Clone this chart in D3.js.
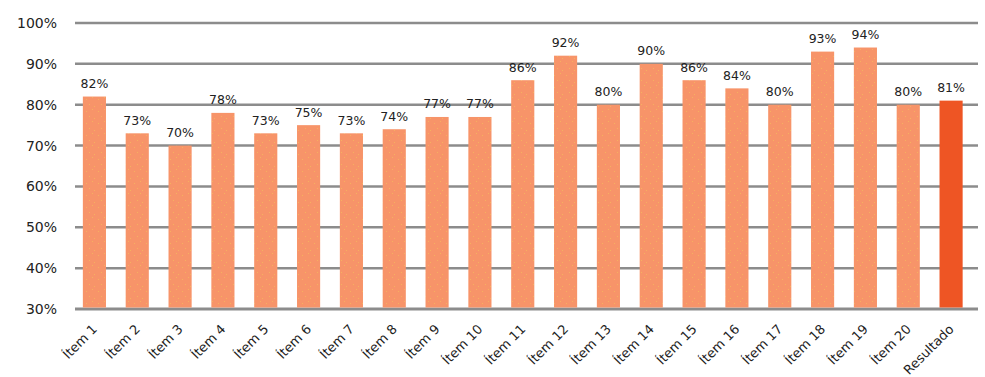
<!DOCTYPE html>
<html><head><meta charset="utf-8">
<script src="https://cdn.jsdelivr.net/npm/d3@7"></script>
<style>body{margin:0;background:#fff}svg{display:block}</style>
</head><body>
<script>
const categories = ["Ítem 1","Ítem 2","Ítem 3","Ítem 4","Ítem 5","Ítem 6","Ítem 7","Ítem 8","Ítem 9","Ítem 10","Ítem 11","Ítem 12","Ítem 13","Ítem 14","Ítem 15","Ítem 16","Ítem 17","Ítem 18","Ítem 19","Ítem 20","Resultado"];
const values = [82,73,70,78,73,75,73,74,77,77,86,92,80,90,86,84,80,93,94,80,81];
const yTicks = [30,40,50,60,70,80,90,100];

const W = 985, H = 377;
const svg = d3.select("body").append("svg").attr("width", W).attr("height", H);
const font = "'DejaVu Sans', Verdana, sans-serif";

const x = d3.scaleBand().domain(categories).range([73, 972.5]).paddingInner(0.46).paddingOuter(0.23);
const y = d3.scaleLinear().domain([30, 100]).range([309, 23]);

// texture pattern for bars
const defs = svg.append("defs");
function addPattern(id, base, dot) {
  const p = defs.append("pattern").attr("id", id).attr("patternUnits", "userSpaceOnUse")
    .attr("width", 12).attr("height", 12);
  p.append("rect").attr("width", 12).attr("height", 12).attr("fill", base);
  [[2,3],[8,1],[5,8],[10,10]].forEach(([cx, cy]) =>
    p.append("rect").attr("x", cx).attr("y", cy).attr("width", 1).attr("height", 1).attr("fill", dot));
}
addPattern("pLight", "#F79469", "#F5B060");
addPattern("pDark", "#EE5524", "#EE5524");

// gridlines
svg.append("g").selectAll("line").data(yTicks).join("line")
  .attr("x1", 75).attr("x2", 978)
  .attr("y1", d => y(d)).attr("y2", d => y(d))
  .attr("stroke", "#8c8c8c").attr("stroke-width", d => d === 30 ? 3 : 2.5);

// y axis labels
svg.append("g").selectAll("text").data(yTicks).join("text")
  .attr("x", 57).attr("y", d => y(d)).attr("dy", "0.36em")
  .attr("text-anchor", "end").attr("font-family", font).attr("font-size", 14)
  .attr("fill", "#222").text(d => d + "%");

// bars
svg.append("g").selectAll("rect").data(values).join("rect")
  .attr("x", (d, i) => x(categories[i]))
  .attr("width", x.bandwidth())
  .attr("y", d => y(d))
  .attr("height", d => y(30) - y(d) - 1.5)
  .attr("fill", (d, i) => categories[i] === "Resultado" ? "url(#pDark)" : "url(#pLight)");

// value labels
svg.append("g").selectAll("text").data(values).join("text")
  .attr("x", (d, i) => x(categories[i]) + x.bandwidth() / 2)
  .attr("y", d => y(d) - 8.5)
  .attr("text-anchor", "middle").attr("font-family", font).attr("font-size", 12.5)
  .attr("fill", "#222").text(d => d + "%");

// x labels
svg.append("g").selectAll("text").data(categories).join("text")
  .attr("transform", d => `translate(${x(d) + x.bandwidth() / 2 + 3.5},${330}) rotate(-45)`)
  .attr("text-anchor", "end").attr("font-family", font).attr("font-size", 13)
  .attr("fill", "#1e1e1e").text(d => d);
</script>
</body></html>
